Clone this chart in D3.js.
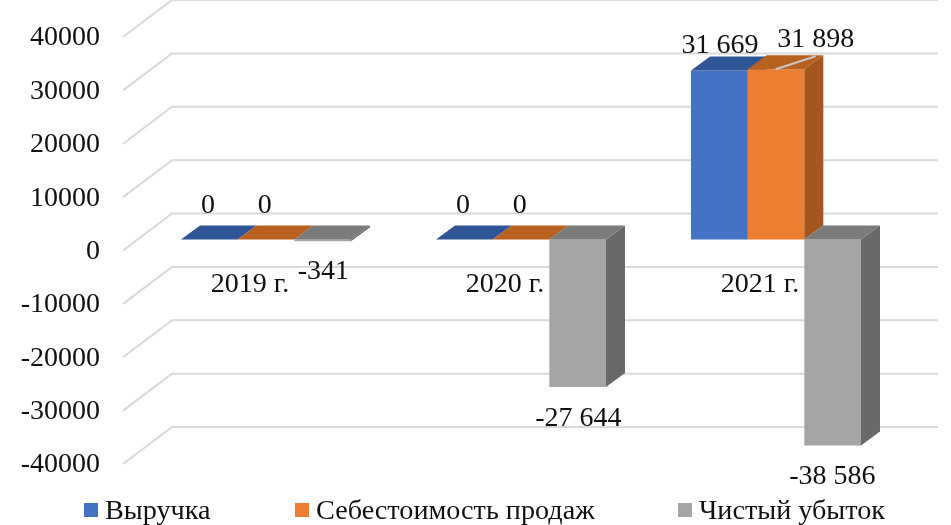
<!DOCTYPE html>
<html>
<head>
<meta charset="utf-8">
<script src="https://cdn.jsdelivr.net/npm/d3@7"></script>
<style>
  html, body { margin: 0; padding: 0; background: #fff; }
  svg { display: block; filter: blur(0.45px); }
  text { font-family: "Liberation Serif", "Times New Roman", serif; fill: #111; }
</style>
</head>
<body>
<svg></svg>
<script>
// chart data
var categories = ["2019 г.", "2020 г.", "2021 г."];
var seriesNames = ["Выручка", "Себестоимость продаж", "Чистый убыток"];
var revenue = [0, 0, 31669];
var costOfSales = [0, 0, 31898];
var netLoss = [-341, -27644, -38586];
var valueLabels = [
    ["0", "0", "31 669"],
    ["0", "0", "31 898"],
    ["-341", "-27 644", "-38 586"]
];
var yTicks = [40000, 30000, 20000, 10000, 0, -10000, -20000, -30000, -40000];

var seriesValues = [revenue, costOfSales, netLoss];
var frontColors = ["#4472c4", "#ed7d31", "#a5a5a5"];
var topColors = ["#2f5597", "#b8611f", "#7b7b7b"];
var sideColors = ["#2c5191", "#a5561f", "#696969"];

var width = 951, height = 525, fontSize = 28;

var svg = d3.select("svg")
    .attr("width", width)
    .attr("height", height);

// y positions on the back wall of the 3d box
var y = d3.scaleLinear()
    .domain([-40000, 40000])
    .range([427, 0]);

// the walls and the bars are sheared by these depths
var wallDepth = {x: -49, y: 37};
var barDepth = {x: 19, y: -14};
var barShift = 26; // bars stand this far below the back wall

// categories along the front of the bars
var x0 = d3.scaleBand()
    .domain(categories)
    .range([181, 946])
    .paddingInner(0)
    .paddingOuter(0);

var x1 = d3.scaleBand()
    .domain(d3.range(seriesNames.length))
    .range([0, 170]);

// gridlines, one back line and one side wall line for each tick
var grid = svg.append("g");
grid.selectAll("path")
    .data(yTicks)
    .enter()
    .append("path")
    .attr("fill", "none")
    .attr("stroke", "#d9d9d9")
    .attr("stroke-width", 2)
    .attr("d", function(d) {
        var p = d3.path();
        p.moveTo(172 + wallDepth.x, y(d) + wallDepth.y);
        p.lineTo(172, y(d));
        p.lineTo(938, y(d));
        return p.toString();
    });

// the tick labels sit at the front end of the side wall
var axis = svg.append("g")
    .attr("transform", "translate(100," + (wallDepth.y - 1) + ")")
    .call(d3.axisLeft(y).tickValues(yTicks).tickSize(0).tickPadding(0).tickFormat(function(d) { return String(d); }));
axis.select(".domain").remove();
axis.attr("font-family", null).attr("font-size", fontSize);
axis.selectAll("text")
    .attr("dy", "0.32em");

function poly(points) {
    return d3.line()(points) + "Z";
}

// one bar, from the zero plane to the value
function drawBar(g, left, w, value, s) {
    var yZero = y(0) + barShift;
    var yValue = y(value) + barShift;
    var top = Math.min(yZero, yValue);
    var bottom = Math.max(yZero, yValue);
    var right = left + w;

    g.append("path")
        .attr("fill", frontColors[s])
        .attr("d", poly([[left, top], [right, top], [right, bottom], [left, bottom]]));
    g.append("path")
        .attr("fill", sideColors[s])
        .attr("d", poly([[right, top], [right + barDepth.x, top + barDepth.y], [right + barDepth.x, bottom + barDepth.y], [right, bottom]]));
    g.append("path")
        .attr("fill", topColors[s])
        .attr("d", poly([[left, top], [left + barDepth.x, top + barDepth.y], [right + barDepth.x, top + barDepth.y], [right, top]]));
}

var bars = svg.append("g");
categories.forEach(function(c, i) {
    seriesValues.forEach(function(values, s) {
        drawBar(bars, x0(c) + x1(s), x1.bandwidth(), values[i], s);
    });
});

// category names, just under the zero plane
svg.append("g").selectAll("text")
    .data(categories)
    .enter()
    .append("text")
    .attr("x", function(d) { return x0(d) + 69; })
    .attr("y", 292)
    .attr("font-size", fontSize)
    .attr("text-anchor", "middle")
    .text(function(d) { return d; });

// data labels were moved by hand in the original so each has its own nudge
var labelNudge = [
    [[27, -27], [27, -27], [29, -187]],
    [[27, -27], [27, -27], [68, -193]],
    [[29, 39], [29, 186], [28, 244]]
];
var labels = svg.append("g");
seriesValues.forEach(function(values, s) {
    categories.forEach(function(c, i) {
        labels.append("text")
            .attr("x", x0(c) + x1(s) + labelNudge[s][i][0])
            .attr("y", y(0) + barShift + labelNudge[s][i][1])
            .attr("font-size", fontSize)
            .attr("text-anchor", "middle")
            .text(valueLabels[s][i]);
    });
});

// leader line of the 31 898 label
svg.append("line")
    .attr("x1", x0(categories[2]) + x1(1) + 28)
    .attr("y1", y(costOfSales[2]) + barShift)
    .attr("x2", x0(categories[2]) + x1(1) + 68)
    .attr("y2", y(costOfSales[2]) + barShift - 13)
    .attr("stroke", "#c8c8c8")
    .attr("stroke-width", 2);

// legend
var legendX = d3.scaleOrdinal()
    .domain(seriesNames)
    .range([84, 295, 678]);
var legend = svg.append("g").selectAll("g")
    .data(seriesNames)
    .enter()
    .append("g")
    .attr("transform", function(d) { return "translate(" + legendX(d) + ",503)"; });
legend.append("rect")
    .attr("width", 14)
    .attr("height", 14)
    .attr("fill", function(d, i) { return frontColors[i]; });
legend.append("text")
    .attr("x", 21)
    .attr("y", 16)
    .attr("font-size", 28.2)
    .text(function(d) { return d; });
</script>
</body>
</html>
